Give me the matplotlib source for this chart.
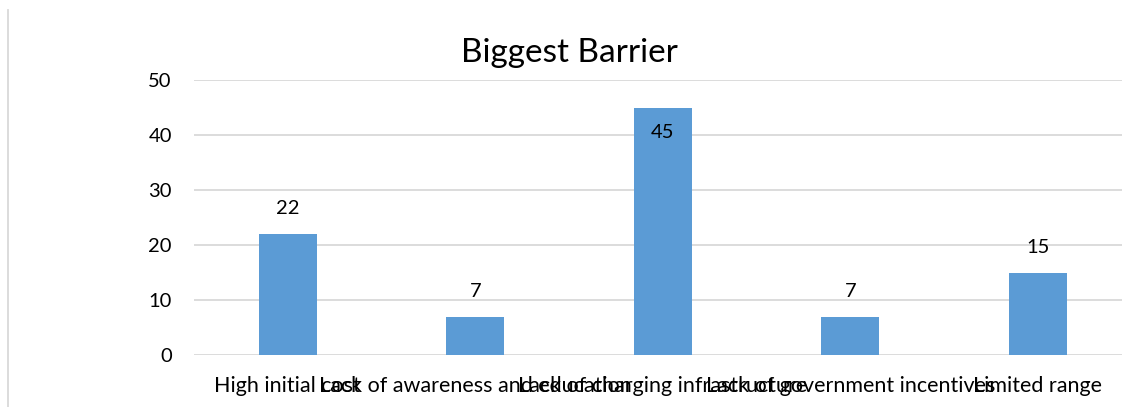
import matplotlib
matplotlib.use("Agg")
import matplotlib.pyplot as plt
from matplotlib.lines import Line2D

categories = [
    "High initial cost",
    "Lack of awareness and education",
    "Lack of charging infrastructure",
    "Lack of government incentives",
    "Limited range",
]
values = [22, 7, 45, 7, 15]
y_ticks = [0, 10, 20, 30, 40, 50]
title = "Biggest Barrier"

BAR = "#5B9BD5"
GRID = "#D9D9D9"
TEXT = "#000000"

plt.rcParams["font.family"] = ["Lato", "DejaVu Sans"]

W, H, DPI = 1122, 407, 100
fig = plt.figure(figsize=(W / DPI, H / DPI), dpi=DPI)
fig.patch.set_facecolor("white")

ax = fig.add_axes([194 / W, 52 / H, 937.5 / W, 275 / H])
x = list(range(len(categories)))
bars = ax.bar(x, values, width=0.31, color=BAR, zorder=3)

ax.set_xlim(-0.5, len(categories) - 0.5)
ax.set_ylim(y_ticks[0], y_ticks[-1])
ax.set_yticks(y_ticks)
ax.set_xticks(x)
ax.set_xticklabels(categories)
ax.tick_params(axis="y", length=0, pad=16, labelsize=14.5, labelcolor=TEXT)
ax.tick_params(axis="x", length=0, pad=15, labelsize=15.5, labelcolor=TEXT)
ax.yaxis.grid(True, color=GRID, linewidth=1.3, zorder=0)
ax.set_axisbelow(True)
for s in ax.spines.values():
    s.set_visible(False)

for rect, v in zip(bars, values):
    cx = rect.get_x() + rect.get_width() / 2
    if v >= y_ticks[-1] - 5:
        ax.annotate(str(v), (cx, v), xytext=(0, -18), textcoords="offset points",
                    ha="center", va="center", fontsize=14.5, color=TEXT, zorder=4)
    else:
        ax.annotate(str(v), (cx, v), xytext=(0, 18), textcoords="offset points",
                    ha="center", va="center", fontsize=14.5, color=TEXT, zorder=4)

fig.text(569 / W, 1 - 53 / H, title, ha="center", va="center",
         fontsize=24, color=TEXT)

fig.add_artist(Line2D([8 / W, 8 / W], [0, 1 - 10 / H], transform=fig.transFigure,
                      color=GRID, linewidth=1.3))

fig.savefig("out.png", dpi=DPI, facecolor="white")
